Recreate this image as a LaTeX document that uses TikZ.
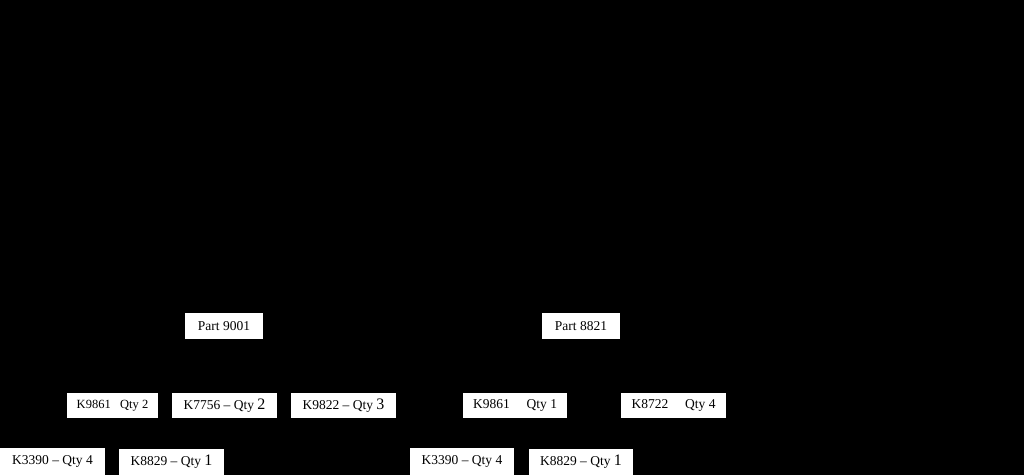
\documentclass[tikz,border=0pt]{standalone}
\usepackage{fontspec}
\setmainfont{Liberation Serif}
\newcommand{\bigd}[1]{{\fontsize{16}{16}\selectfont #1}}
\begin{document}
\begin{tikzpicture}[x=1pt,y=-1pt,
  box/.style={fill=white,draw=none,text=black,inner sep=0pt,font=\fontsize{13.5}{15}\selectfont}]
\fill[black] (0,0) rectangle (1024,475);
\useasboundingbox (0,0) rectangle (1024,475);
\newcommand{\bx}[6]{\node[box,minimum width=#4pt,minimum height=#5pt] (#1) at (#2,#3) {#6};}
\bx{p9001}{224}{326}{78}{26}{Part 9001}
\bx{p8821}{581}{326}{78}{26}{Part 8821}
\bx{a9861}{112.5}{405.5}{91}{25}{\fontsize{12.5}{14}\selectfont K9861 \enspace Qty 2}
\bx{a7756}{224.5}{405.5}{105}{25}{K7756 -- Qty \bigd{2}}
\bx{a9822}{343.5}{405.5}{105}{25}{K9822 -- Qty \bigd{3}}
\bx{a3390}{52.5}{461.5}{105}{27}{K3390 -- Qty 4}
\bx{a8829}{171.5}{462}{105}{26}{K8829 -- Qty \bigd{1}}
\bx{b9861}{515}{405.5}{104}{25}{K9861 \quad Qty 1}
\bx{b8722}{673.5}{405.5}{105}{25}{K8722 \quad Qty 4}
\bx{b3390}{462}{461.5}{104}{27}{K3390 -- Qty 4}
\bx{b8829}{581}{462}{104}{26}{K8829 -- Qty \bigd{1}}
\end{tikzpicture}
\end{document}
